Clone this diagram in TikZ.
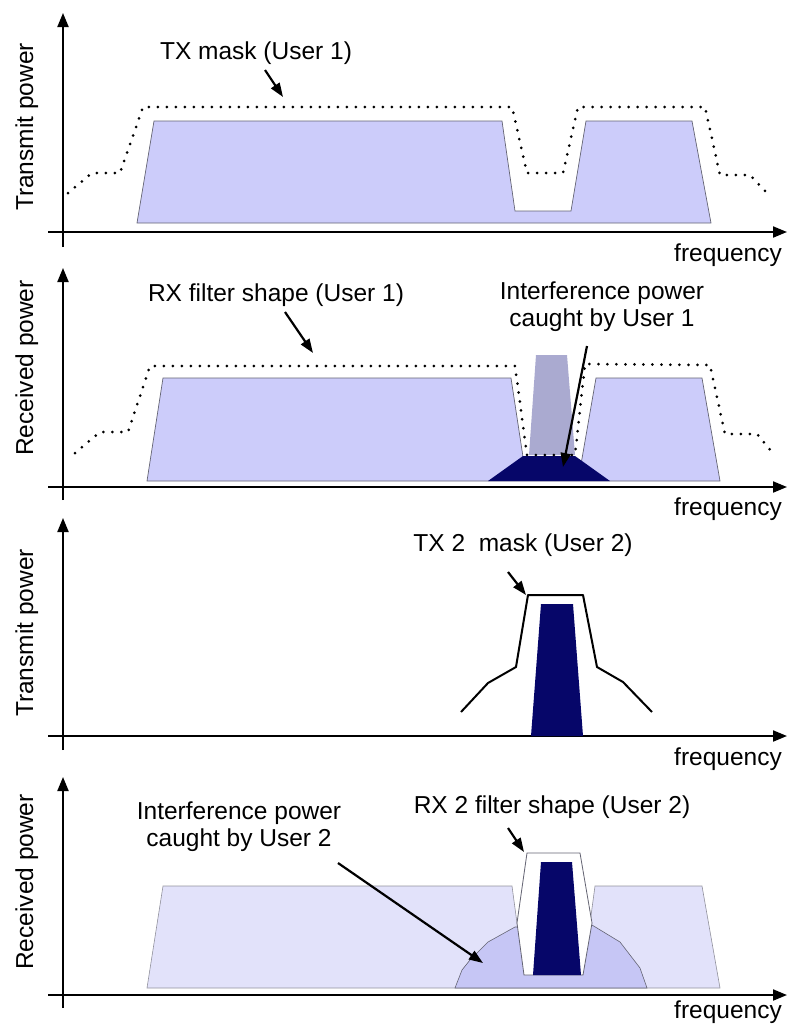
\documentclass[tikz,border=0pt]{standalone}
\usepackage{fontspec}
\setmainfont{Liberation Sans}
\usetikzlibrary{arrows.meta}
\definecolor{lav}{RGB}{204,204,250}
\definecolor{pale}{RGB}{226,226,250}
\definecolor{blob}{RGB}{198,198,245}
\definecolor{colgray}{RGB}{170,170,208}
\definecolor{navy}{RGB}{6,6,105}
\definecolor{edge}{RGB}{100,100,115}
\begin{document}
\begin{tikzpicture}[x=1pt,y=-1pt,
  axis/.style={line width=2pt,-{Triangle[length=14pt,width=11pt]}},
  plainline/.style={line width=2pt},
  callout/.style={line width=2.2pt,-{Triangle[length=14pt,width=10pt]}},
  lbl/.style={inner sep=0pt,font=\fontsize{24.5}{27}\selectfont},
  band/.style={fill=lav,draw=edge,line width=0.7pt},
  paleband/.style={fill=pale,draw=edge!70,line width=0.6pt},
  dots/.style={line width=3pt,line cap=round,dash pattern=on 0pt off 9pt},
  navyfill/.style={fill=navy,draw=none}]
\useasboundingbox (0,0) rectangle (795,1026);

% ---------- axes ----------
\foreach \n/\ax/\yt/\yb/\fb in {1/232/13/247/261, 2/487/268/500/515, 3/736/518/750/765, 4/995/777/1008/1018}{
  \coordinate (yb\n) at (63,\yb);
  \coordinate (yt\n) at (63,\yt);
  \coordinate (xl\n) at (48,\ax);
  \coordinate (xr\n) at (787,\ax);
  \draw[axis] (yb\n) -- (yt\n);
  \draw[axis] (xl\n) -- (xr\n);
  \node[lbl,anchor=base east] (freq\n) at (782,\fb) {frequency};
}
\node[lbl,rotate=90,anchor=base] (ylab1) at (33,127) {Transmit power};
\node[lbl,rotate=90,anchor=base] (ylab2) at (33,368) {Received power};
\node[lbl,rotate=90,anchor=base] (ylab3) at (33,633) {Transmit power};
\node[lbl,rotate=90,anchor=base] (ylab4) at (33,882) {Received power};

% ---------- panel 1 ----------
\draw[band] (137,223) -- (154,121) -- (502,121) -- (515,211) -- (571,211) -- (586,121) -- (692,121) -- (711,223) -- cycle;
\draw[dots] (68,193) -- (92,173) -- (120,173) -- (143,107) -- (512,107) -- (527,173) -- (563,173) -- (578,107) -- (705,107) -- (720,175) -- (750,175) -- (766,192);
\node[lbl,anchor=base] (txmask) at (256,59) {TX mask (User 1)};
\coordinate (a1s) at (265,70);
\coordinate (a1e) at (283,97);
\draw[callout] (a1s) -- (a1e);

% ---------- panel 2 ----------
\draw[band] (147,481) -- (163,378) -- (511,378) -- (525,470) -- (580,470) -- (596,378) -- (702,378) -- (720,481) -- cycle;
\fill[colgray] (529,455) -- (536,355) -- (567,355) -- (575,455) -- cycle;
\fill[navyfill] (488,481) -- (523,456) -- (575,456) -- (610,481) -- cycle;
\draw[dots] (75,453) -- (100,432) -- (128,432) -- (150,366) -- (515,366) -- (527,455) -- (575,455) -- (585,364) -- (710,365) -- (725,434) -- (757,434) -- (772,452);
\node[lbl,anchor=base] (rxshape) at (276,301) {RX filter shape (User 1)};
\coordinate (a2s) at (285,312);
\coordinate (a2e) at (313,353);
\draw[callout] (a2s) -- (a2e);
\node[lbl,anchor=base,align=center] (intf1) at (602,326) {Interference power\\caught by User 1};
\coordinate (a3s) at (587,346);
\coordinate (a3e) at (563,467);
\draw[callout] (a3s) -- (a3e);

% ---------- panel 3 ----------
\fill[navyfill] (531,736) -- (541,604) -- (573,604) -- (583,736) -- cycle;
\draw[plainline,line join=round] (461,712) -- (488,683) -- (516,667) -- (528,595) -- (583,595) -- (597,667) -- (623,682) -- (652,712);
\node[lbl,anchor=base] (tx2mask) at (523,551) {TX 2\ \ mask (User 2)};
\coordinate (a4s) at (508,572);
\coordinate (a4e) at (526,595);
\draw[callout] (a4s) -- (a4e);

% ---------- panel 4 ----------
\draw[paleband] (147,988) -- (163,886) -- (512,886) -- (524,975) -- (583,975) -- (595,886) -- (702,886) -- (720,988) -- cycle;
\draw[fill=blob,draw=edge,line width=0.6pt] (455,988) -- (462,970) -- (470,960) -- (488,942) -- (515,927) -- (592,925) -- (620,942) -- (640,968) -- (647,988) -- cycle;
\draw[fill=white,draw=edge,line width=0.8pt] (524,975) -- (517,923) -- (527,853) -- (580,853) -- (592,923) -- (583,975) -- cycle;
\fill[navyfill] (533,975) -- (541,862) -- (572,862) -- (581,975) -- cycle;
\node[lbl,anchor=base] (rx2shape) at (552,813) {RX 2 filter shape (User 2)};
\coordinate (a5s) at (508,828);
\coordinate (a5e) at (524,852);
\draw[callout] (a5s) -- (a5e);
\node[lbl,anchor=base,align=center] (intf2) at (239,846) {Interference power\\caught by User 2};
\coordinate (a6s) at (338,863);
\coordinate (a6e) at (483,963);
\draw[callout] (a6s) -- (a6e);
\end{tikzpicture}
\end{document}
